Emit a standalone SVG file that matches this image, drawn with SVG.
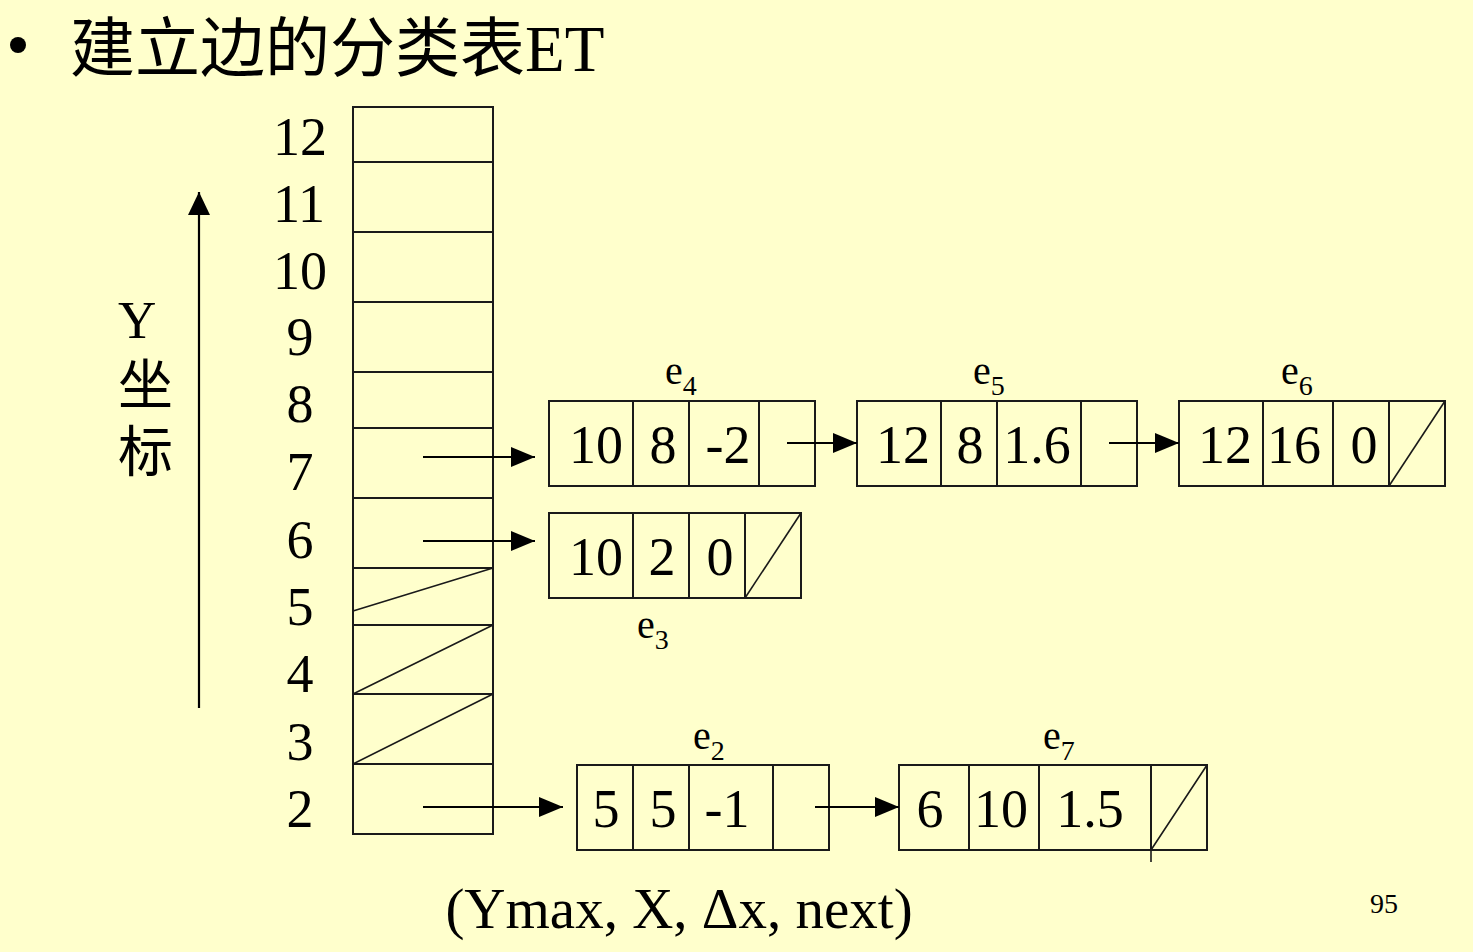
<svg xmlns="http://www.w3.org/2000/svg" width="1473" height="952" viewBox="0 0 1473 952">
<style>
.bg{fill:#FFFFCC}
.box{fill:none;stroke:#1a1a1a;stroke-width:2}
.thin{fill:none;stroke:#1a1a1a;stroke-width:1.6}
.num{font-family:"Liberation Serif","Times New Roman",serif;font-size:54px;fill:#000;text-anchor:middle}
.lbl{font-family:"Liberation Serif","Times New Roman",serif;font-size:40px;fill:#000}
.sub{font-size:28px}
.cjk{font-family:"Liberation Serif","Noto Sans CJK SC",serif;fill:#000}
.conn{stroke:#000;stroke-width:2;fill:none;marker-end:url(#arr)}
</style>
<defs>
<marker id="arr" markerUnits="userSpaceOnUse" markerWidth="24" markerHeight="20" refX="24" refY="10" orient="auto">
<path d="M0,0 L24,10 L0,20 Z" fill="#000"/>
</marker>
<marker id="arrY" markerUnits="userSpaceOnUse" markerWidth="23" markerHeight="22" refX="23" refY="11" orient="auto">
<path d="M0,0 L23,11 L0,22 Z" fill="#000"/>
</marker>
</defs>
<rect class="bg" x="0" y="0" width="1473" height="952"/>

<g id="title">
<circle cx="18" cy="45" r="8" fill="#000"/>
<text class="cjk" x="70" y="71" font-size="65">建立边的分类表ET</text>
</g>

<g id="y-axis">
<line x1="199" y1="708" x2="199" y2="192" stroke="#000" stroke-width="2.2" marker-end="url(#arrY)"/>
<text class="cjk" x="118" y="338" font-size="53">Y</text>
<text class="cjk" x="118" y="404" font-size="55">坐</text>
<text class="cjk" x="118" y="471" font-size="55">标</text>
</g>

<g id="row-labels">
<text class="num" x="300" y="155">12</text>
<text class="num" x="299" y="222">11</text>
<text class="num" x="300" y="289">10</text>
<text class="num" x="300" y="355">9</text>
<text class="num" x="300" y="422">8</text>
<text class="num" x="300" y="490">7</text>
<text class="num" x="300" y="558">6</text>
<text class="num" x="300" y="625">5</text>
<text class="num" x="300" y="692">4</text>
<text class="num" x="300" y="760">3</text>
<text class="num" x="300" y="827">2</text>
</g>

<g id="et-table">
<rect class="box" x="353" y="107" width="140" height="727"/>
<path class="box" d="M353,162H493 M353,232H493 M353,302H493 M353,372H493 M353,428H493 M353,498H493 M353,568H493 M353,625H493 M353,694H493 M353,764H493"/>
<path class="thin" d="M493,568L353,611 M493,625L353,694 M493,694L353,764"/>
</g>

<g id="e4">
<rect class="box" x="549" y="401" width="266" height="85"/>
<path class="box" d="M633,401V486 M689,401V486 M759,401V486"/>
<text class="num" x="596" y="463">10</text>
<text class="num" x="663" y="463">8</text>
<text class="num" x="728" y="463">-2</text>
<text class="lbl" x="665" y="384">e<tspan class="sub" dy="11">4</tspan></text>
</g>

<g id="e5">
<rect class="box" x="857" y="401" width="280" height="85"/>
<path class="box" d="M941,401V486 M997,401V486 M1081,401V486"/>
<text class="num" x="903" y="463">12</text>
<text class="num" x="970" y="463">8</text>
<text class="num" x="1037" y="463">1.6</text>
<text class="lbl" x="973" y="384">e<tspan class="sub" dy="11">5</tspan></text>
</g>

<g id="e6">
<rect class="box" x="1179" y="401" width="266" height="85"/>
<path class="box" d="M1263,401V486 M1333,401V486 M1389,401V486"/>
<path class="thin" d="M1389,486L1445,401"/>
<text class="num" x="1225" y="463">12</text>
<text class="num" x="1294" y="463">16</text>
<text class="num" x="1364" y="463">0</text>
<text class="lbl" x="1281" y="384">e<tspan class="sub" dy="11">6</tspan></text>
</g>

<g id="e3">
<rect class="box" x="549" y="513" width="252" height="85"/>
<path class="box" d="M633,513V598 M689,513V598 M745,513V598"/>
<path class="thin" d="M745,598L801,513"/>
<text class="num" x="596" y="575">10</text>
<text class="num" x="662" y="575">2</text>
<text class="num" x="720" y="575">0</text>
<text class="lbl" x="637" y="638">e<tspan class="sub" dy="11">3</tspan></text>
</g>

<g id="e2">
<rect class="box" x="577" y="765" width="252" height="85"/>
<path class="box" d="M633,765V850 M689,765V850 M773,765V850"/>
<text class="num" x="606" y="827">5</text>
<text class="num" x="663" y="827">5</text>
<text class="num" x="727" y="827">-1</text>
<text class="lbl" x="693" y="749">e<tspan class="sub" dy="11">2</tspan></text>
</g>

<g id="e7">
<rect class="box" x="899" y="765" width="308" height="85"/>
<path class="box" d="M969,765V850 M1039,765V850 M1151,765V850"/>
<path class="thin" d="M1151,850L1207,765 M1151,850V862"/>
<text class="num" x="930" y="827">6</text>
<text class="num" x="1001" y="827">10</text>
<text class="num" x="1090" y="827">1.5</text>
<text class="lbl" x="1043" y="749">e<tspan class="sub" dy="11">7</tspan></text>
</g>

<g id="connectors">
<line class="conn" x1="423" y1="457" x2="535" y2="457"/>
<line class="conn" x1="423" y1="541" x2="535" y2="541"/>
<line class="conn" x1="423" y1="807" x2="563" y2="807"/>
<line class="conn" x1="787" y1="443" x2="857" y2="443"/>
<line class="conn" x1="1109" y1="443" x2="1179" y2="443"/>
<line class="conn" x1="815" y1="807" x2="899" y2="807"/>
</g>

<g id="caption">
<text class="num" x="679" y="928" style="font-size:57px">(Ymax, X, Δx, next)</text>
<text class="num" x="1384" y="913" style="font-size:28px">95</text>
</g>
</svg>
